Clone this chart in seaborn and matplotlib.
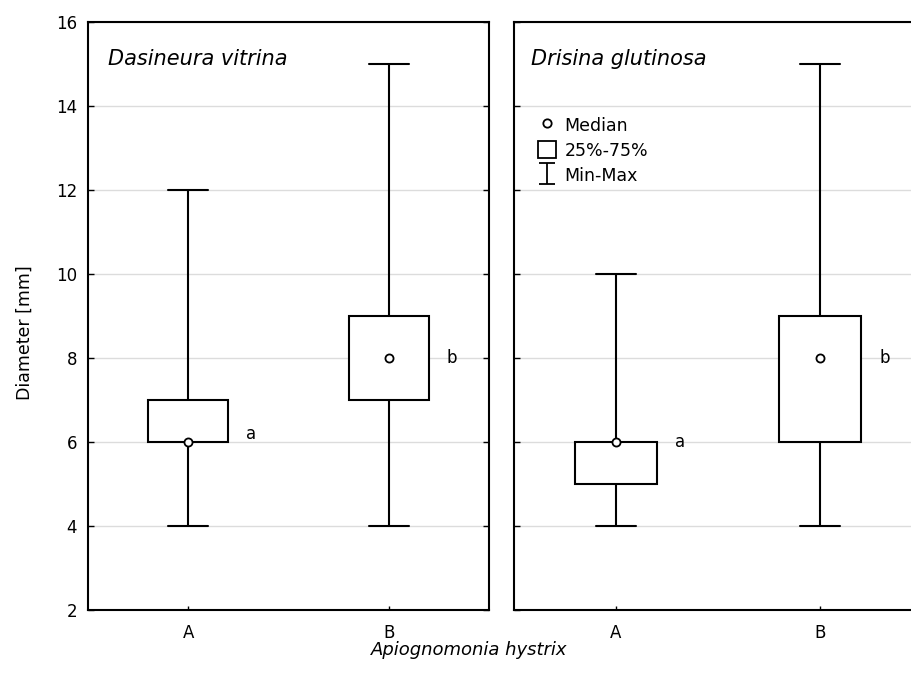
import numpy as np
import pandas as pd
import seaborn as sns
import matplotlib.pyplot as plt
from matplotlib.patches import Patch
from matplotlib.lines import Line2D
from matplotlib.container import ErrorbarContainer
from matplotlib.legend_handler import HandlerErrorbar

# ---- data ----
groups = ["A", "B"]
panels = ["Dasineura vitrina", "Drisina glutinosa"]
mins = [[4, 4], [4, 4]]
q1s = [[6, 7], [5, 6]]
medians = [[6, 8], [6, 8]]
q3s = [[7, 9], [6, 9]]
maxs = [[12, 15], [10, 15]]
letters = [["a", "b"], ["a", "b"]]
letter_y = [[6.2, 8.0], [6.0, 8.0]]
y_ticks = [2, 4, 6, 8, 10, 12, 14, 16]
legend_labels = ["Median", "25%-75%", "Min-Max"]

sns.set_theme(style="white")
plt.rcParams["font.family"] = ["DejaVu Sans"]
for k in ["text.color", "axes.labelcolor", "xtick.color", "ytick.color"]:
    plt.rcParams[k] = "black"

fig = plt.figure(figsize=(9.12, 6.89), dpi=100)
W, H = 912, 689
ax1 = fig.add_axes([88 / W, 1 - 610 / H, 401 / W, 588 / H])
ax2 = fig.add_axes([514 / W, 1 - 610 / H, 408 / W, 588 / H])

for p, ax in enumerate([ax1, ax2]):
    rows = []
    for g, grp in enumerate(groups):
        for v in [mins[p][g], q1s[p][g], medians[p][g], q3s[p][g], maxs[p][g]]:
            rows.append({"group": grp, "value": v})
    df = pd.DataFrame(rows)
    ax.yaxis.grid(True, color="#dcdcdc", lw=1)
    ax.set_axisbelow(True)
    sns.boxplot(data=df, x="group", y="value", order=groups, width=0.4,
                whis=(0, 100), color="white", linecolor="black", linewidth=1.5,
                fliersize=0, medianprops={"visible": False}, ax=ax, zorder=3)
    ax.scatter(range(len(groups)), medians[p], s=34, facecolor="white",
               edgecolor="black", linewidth=1.3, zorder=5)
    for g in range(len(groups)):
        ax.text(g + 0.29, letter_y[p][g], letters[p][g], fontsize=12,
                ha="left", va="center")
    ax.text(0.05 if p == 0 else 0.042, 0.937, panels[p], transform=ax.transAxes,
            fontsize=15, style="italic", ha="left", va="center")
    ax.set_xlim(-0.5, 1.5)
    ax.set_ylim(2, 16)
    ax.set_yticks(y_ticks)
    ax.set_xlabel("")
    ax.set_ylabel("")
    for s in ax.spines.values():
        s.set_color("black")
        s.set_linewidth(1.5)
    ax.tick_params(axis="y", direction="in", length=4, width=1, left=True,
                   right=True, labelsize=12, pad=8)
    ax.tick_params(axis="x", direction="in", length=3, width=1, bottom=True,
                   labelsize=12, pad=10)

ax2.tick_params(axis="y", labelleft=False)

# legend
h_med = Line2D([], [], linestyle="none", marker="o", markersize=6,
               markerfacecolor="white", markeredgecolor="black", markeredgewidth=1.3)
h_box = Patch(facecolor="white", edgecolor="black", linewidth=1.3)
h_rng = ax2.errorbar([np.nan], [np.nan], yerr=[1], fmt="none", ecolor="black",
                     elinewidth=1.3, capsize=6, capthick=1.3)
ax2.legend([h_med, h_box, h_rng], legend_labels, loc="upper left",
           bbox_to_anchor=(0.06, 0.840), frameon=False, fontsize=12.5,
           handlelength=1.0, handleheight=1.15, handletextpad=0.5,
           labelspacing=0.38, borderpad=0, borderaxespad=0,
           handler_map={ErrorbarContainer: HandlerErrorbar(yerr_size=0.6)})

fig.text(469 / W, 1 - 650 / H, "Apiognomonia hystrix", fontsize=13,
         style="italic", ha="center", va="center")
fig.text(25 / W, 1 - 333 / H, "Diameter [mm]", fontsize=12.5, rotation=90,
         ha="center", va="center")

fig.savefig("out.png", dpi=100)
